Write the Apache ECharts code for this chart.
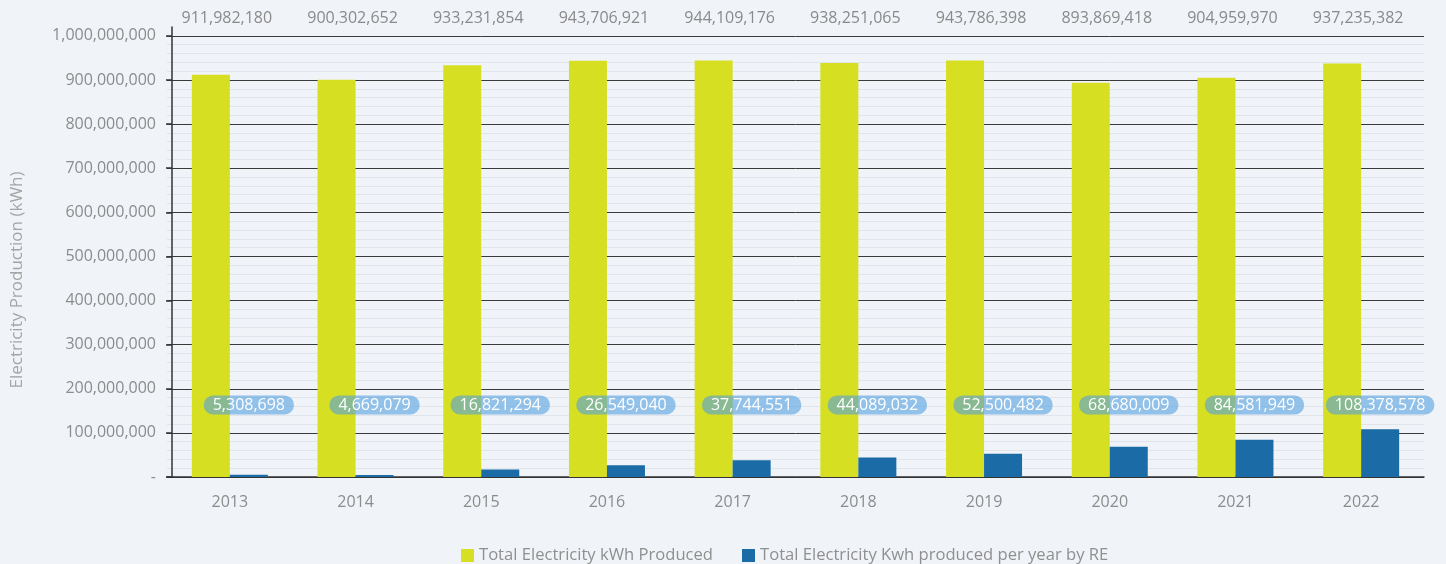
<!DOCTYPE html>
<html>
<head>
<meta charset="utf-8">
<title>Electricity Production</title>
<script src="https://cdn.jsdelivr.net/npm/echarts@6/dist/echarts.min.js"></script>
<style>
  html, body { margin: 0; padding: 0; background: #f0f3f8; }
  #chart { width: 1446px; height: 564px; }
</style>
</head>
<body>
<div id="chart"></div>
<script>
// Yearly electricity production (kWh)
const years = ['2013', '2014', '2015', '2016', '2017', '2018', '2019', '2020', '2021', '2022'];
const totalProduced = [911982180, 900302652, 933231854, 943706921, 944109176, 938251065, 943786398, 893869418, 904959970, 937235382];
const reProduced = [5308698, 4669079, 16821294, 26549040, 37744551, 44089032, 52500482, 68680009, 84581949, 108378578];
const yTickValues = [0, 100000000, 200000000, 300000000, 400000000, 500000000, 600000000, 700000000, 800000000, 900000000, 1000000000];
const seriesNames = ['Total Electricity kWh Produced', 'Total Electricity Kwh produced per year by RE'];

const FONT = '"Open Sans", "Noto Sans", sans-serif';
const GRID_TOP = 27;
const GRID_BOTTOM = 87;
const CHART_H = 564;
const TOP_LABEL_Y = GRID_TOP - 9;
const PILL_Y = CHART_H - GRID_BOTTOM - 72;
const Y_MAX = 1020000000;

const fmt = v => Number(v).toLocaleString('en-US');
const minor = '#e0e5ec';

const chart = echarts.init(document.getElementById('chart'), null, { renderer: 'canvas' });

chart.setOption({
  backgroundColor: '#f0f3f8',
  textStyle: { fontFamily: FONT },
  animation: false,
  grid: { left: 167, right: 22, top: GRID_TOP, bottom: GRID_BOTTOM, containLabel: false },
  legend: {
    data: seriesNames,
    left: 456,
    top: 542,
    icon: 'rect',
    itemWidth: 13,
    itemHeight: 13,
    itemGap: 29,
    textStyle: { fontFamily: FONT, fontSize: 16.6, color: '#8f8f8f' }
  },
  xAxis: {
    type: 'category',
    data: years,
    axisLine: { show: true, lineStyle: { color: '#333', width: 1.5 } },
    axisTick: { show: false },
    axisLabel: { color: '#8c8c8c', fontSize: 16, fontFamily: FONT, margin: 17 }
  },
  yAxis: [
    {
      // fine grid: every 20M, darker every 100M
      type: 'value',
      min: 0,
      max: Y_MAX,
      interval: 20000000,
      axisLine: { show: false },
      axisTick: { show: false },
      axisLabel: { show: false },
      splitLine: {
        show: true,
        showMaxLine: false,
        lineStyle: { color: ['#3a3a3a', minor, minor, minor, minor], width: 1 }
      }
    },
    {
      // labelled axis
      type: 'value',
      position: 'left',
      offset: -5,
      min: 0,
      max: Y_MAX,
      interval: 100000000,
      name: 'Electricity Production (kWh)',
      nameLocation: 'middle',
      nameRotate: 90,
      nameGap: 146,
      nameTextStyle: { color: '#a5a5a5', fontSize: 17, fontFamily: FONT, padding: [0, 56, 0, 0] },
      axisLine: { show: true, lineStyle: { color: '#333', width: 1.5 } },
      axisTick: { show: true, length: 6, customValues: yTickValues, lineStyle: { color: '#333', width: 1.5 } },
      axisLabel: {
        customValues: yTickValues,
        color: '#8c8c8c',
        fontSize: 16,
        fontFamily: FONT,
        margin: 16,
        formatter: v => (v === 0 ? '-' : (v > 1000000000 ? '' : fmt(v)))
      },
      splitLine: { show: false }
    }
  ],
  series: [
    {
      name: seriesNames[0],
      type: 'bar',
      yAxisIndex: 0,
      data: totalProduced,
      barWidth: 38,
      barGap: '0%',
      itemStyle: { color: '#d6df22' },
      label: {
        show: true,
        position: 'top',
        formatter: p => fmt(p.value),
        color: '#8a8a8a',
        fontSize: 16,
        fontFamily: FONT
      },
      labelLayout: params => ({
        x: params.rect.x + params.rect.width - 3,
        y: TOP_LABEL_Y,
        align: 'center',
        verticalAlign: 'middle'
      })
    },
    {
      name: seriesNames[1],
      type: 'bar',
      yAxisIndex: 0,
      data: reProduced,
      barWidth: 38,
      barGap: '0%',
      itemStyle: { color: '#1b6ca6' },
      label: {
        show: true,
        position: 'top',
        formatter: p => fmt(p.value),
        color: '#ffffff',
        fontSize: 16,
        fontFamily: FONT,
        backgroundColor: 'rgba(83,160,223,0.6)',
        borderRadius: 10,
        padding: [1, 9, 0, 9],
        lineHeight: 18
      },
      labelLayout: params => ({
        x: params.rect.x + params.rect.width / 2,
        y: PILL_Y,
        align: 'center',
        verticalAlign: 'middle'
      })
    }
  ]
});
</script>
</body>
</html>
